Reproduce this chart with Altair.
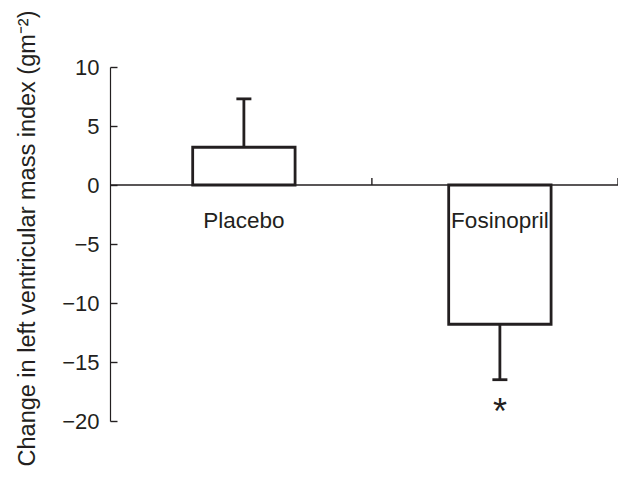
import altair as alt
import pandas as pd

# ---- data ----
categories = ["Placebo", "Fosinopril"]
means = [3.2, -11.8]
errors = [4.1, 4.7]
significance = ["", "*"]
y_ticks = [-20, -15, -10, -5, 0, 5, 10]

Y_MIN, Y_MAX = -20, 10
W, H = 508, 354
X_MIN = -0.023
X_MAX = X_MIN + W / 256.0
INK = "#231f20"
FONT = "Liberation Sans"

df = pd.DataFrame({
    "category": categories,
    "mean": means,
    "err": errors,
    "sig": significance,
})
df["idx"] = range(len(df))
df["center"] = df["idx"] + 0.5
df["lo"] = df["center"] - 0.2
df["hi"] = df["center"] + 0.2
df["end"] = df["mean"] + df["err"] * df["mean"].apply(lambda v: 1 if v >= 0 else -1)

# category boundaries on the zero line (between groups and at the right end)
bounds_df = pd.DataFrame({"b": [1.0, X_MAX]})

xs = alt.Scale(domain=[X_MIN, X_MAX], nice=False, zero=False)
ys = alt.Scale(domain=[Y_MIN, Y_MAX], nice=False)

y_axis_left = alt.Axis(
    orient="left", values=y_ticks, title="Change in left ventricular mass index (gm⁻²)",
    grid=False, domain=True, domainColor=INK, domainWidth=1.2,
    ticks=False, tickSize=0, labelPadding=11, labelFont=FONT, labelFontSize=22,
    labelColor=INK, titleFont=FONT, titleFontSize=23.5, titleFontWeight="normal",
    titleColor=INK, titlePadding=22, titleY=171,
    labelExpr="replace(datum.label, '-', '\u2212')",
)

y_axis_ticks = alt.Axis(
    orient="right", offset=-W, values=y_ticks, labels=False, title=None,
    grid=False, domain=False, ticks=True, tickSize=7, tickColor=INK, tickWidth=1.4,
)

base = alt.Chart(df)

zero_line = base.mark_rule(stroke=INK, strokeWidth=1.2).encode(
    x=alt.X(datum=X_MIN, scale=xs, axis=None),
    x2=alt.datum(X_MAX),
    y=alt.Y(datum=0, scale=ys, axis=None),
)

bound_ticks = alt.Chart(bounds_df).mark_tick(
    orient="vertical", size=7, thickness=1.4, color=INK, opacity=1, yOffset=-3.5
).encode(
    x=alt.X("b:Q", scale=xs, axis=None),
    y=alt.Y(datum=0, scale=ys, axis=None),
)

bars = base.mark_bar(fill="white", stroke=INK, strokeWidth=2.8).encode(
    x=alt.X("lo:Q", scale=xs, axis=None),
    x2="hi:Q",
    y=alt.Y("mean:Q", scale=ys, axis=y_axis_left),
    y2=alt.datum(0),
)

stems = base.mark_rule(stroke=INK, strokeWidth=2.8).encode(
    x=alt.X("center:Q", scale=xs, axis=None),
    y=alt.Y("mean:Q", scale=ys, axis=y_axis_ticks),
    y2="end:Q",
)

caps = base.mark_tick(orient="horizontal", size=15, thickness=2.8, color=INK, opacity=1).encode(
    x=alt.X("center:Q", scale=xs, axis=None),
    y=alt.Y("end:Q", scale=ys, axis=None),
)

labels = base.mark_text(font=FONT, fontSize=22.5, color=INK, baseline="alphabetic", dy=43).encode(
    x=alt.X("center:Q", scale=xs, axis=None),
    y=alt.Y(datum=0, scale=ys, axis=None),
    text="category:N",
)

stars = base.mark_text(font=FONT, fontSize=36, color=INK, baseline="alphabetic", dy=44).encode(
    x=alt.X("center:Q", scale=xs, axis=None),
    y=alt.Y("end:Q", scale=ys, axis=None),
    text="sig:N",
)

chart = alt.layer(zero_line, bound_ticks, bars, stems, caps, labels, stars).resolve_axis(
    y="independent"
).properties(
    width=W, height=H,
    padding={"left": 102, "top": 59, "right": 0, "bottom": 48},
    autosize="none",
    background="white",
).configure_view(stroke=None)

chart.save("out.html", embed_options={"renderer": "svg", "actions": False})
